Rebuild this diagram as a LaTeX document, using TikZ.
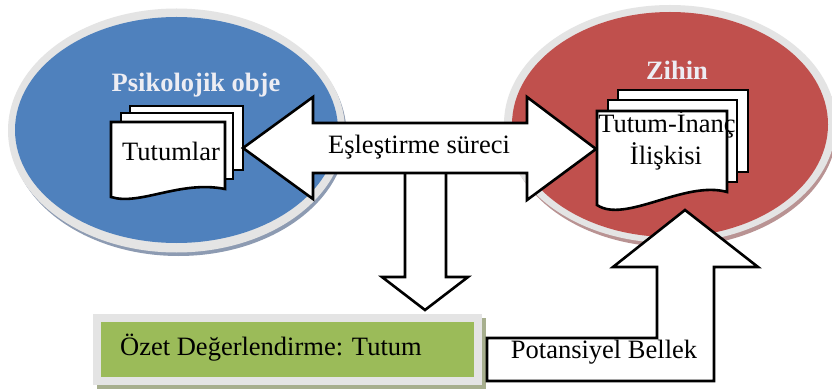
\documentclass[tikz,border=0pt]{standalone}
\usepackage{fontspec}
\setmainfont{Liberation Serif}
\definecolor{objblue}{HTML}{4F81BD}
\definecolor{mindred}{HTML}{C0504D}
\definecolor{evalgreen}{HTML}{9BBB59}
\definecolor{rimgray}{HTML}{E4E4E4}
\definecolor{blueshade}{HTML}{8D9BB2}
\definecolor{redshade}{HTML}{B99393}
\definecolor{greenshade}{HTML}{A7AF8E}
\definecolor{titlefg}{HTML}{EDEDF3}
\begin{document}
\begin{tikzpicture}[x=1pt,y=-1pt,
  outline/.style={draw=black, line width=2.6pt, fill=white, line join=miter},
  label/.style={font=\fontsize{26.5}{32}\selectfont, inner sep=0pt, text=black},
  title/.style={font=\fontsize{26.5}{32}\selectfont\bfseries, text=titlefg, inner sep=0pt}]
\useasboundingbox (0,0) rectangle (832,390);
\fill[white] (0,0) rectangle (832,390);

% psychological object: blue disc with light rim and soft shadow
\fill[blueshade] (178.5,134) ellipse [x radius=168, y radius=122];
\fill[rimgray] (176.5,130.5) ellipse [x radius=168.5, y radius=122];
\fill[objblue] (176.5,130) ellipse [x radius=161.5, y radius=113];

% mind: red disc with light rim and soft shadow
\fill[redshade] (672,128) ellipse [x radius=165, y radius=119];
\fill[rimgray] (670,124) ellipse [x radius=166, y radius=119];
\fill[mindred] (670,124.5) ellipse [x radius=158, y radius=112.5];

% stacked documents: attitudes
\draw[outline] (130,106) rectangle (243,170);
\draw[outline] (121,113) rectangle (233,179);
\draw[outline] (225,189) -- (225,122) -- (111,122) -- (111,197)
  .. controls (140,206) and (180,180) .. (225,189) -- cycle;

% stacked documents: attitude-belief relation
\draw[outline] (618,90) rectangle (748,172);
\draw[outline] (608,100) rectangle (737,182);
\draw[outline] (727,192) -- (727,111) -- (597,111) -- (597,205)
  .. controls (625,224) and (685,180) .. (727,192) -- cycle;

% downward block arrow towards the summary evaluation
\draw[outline] (405,170) -- (405,277) -- (382,277) -- (425,310)
  -- (468,277) -- (446,277) -- (446,170) -- cycle;

% two-headed block arrow: matching process
\draw[outline] (243,148) -- (313,97) -- (313,123) -- (527,123) -- (527,97)
  -- (596,149) -- (527,200) -- (527,173) -- (313,173) -- (313,199) -- cycle;

% summary evaluation box with frame and shadow
\fill[greenshade] (97,318) rectangle (486,389);
\fill[rimgray] (93,314) rectangle (482,385);
\fill[evalgreen] (101,322) rectangle (474,377);

% bent block arrow: potential memory back into the mind
\draw[outline] (487,338) -- (657,338) -- (657,267) -- (613,267) -- (685,210)
  -- (758,267) -- (714,267) -- (714,381) -- (487,381) -- cycle;

% labels
\node[title, anchor=base] (objtitle) at (196,92) {Psikolojik obje};
\node[title, anchor=base] (mindtitle) at (677,80) {Zihin};
\node[label, anchor=base] (attitudes) at (171,161) {Tutumlar};
\node[label, anchor=base] (relation1) at (667,133) {Tutum-İnanç};
\node[label, anchor=base] (relation2) at (666,165) {İlişkisi};
\node[label, anchor=base] (matching) at (419,154) {Eşleştirme süreci};
\node[label, anchor=base west] (summary) at (120,355) {Özet Değerlendirme: Tutum};
\node[label, anchor=base] (memory) at (604,358) {Potansiyel Bellek};
\end{tikzpicture}
\end{document}
